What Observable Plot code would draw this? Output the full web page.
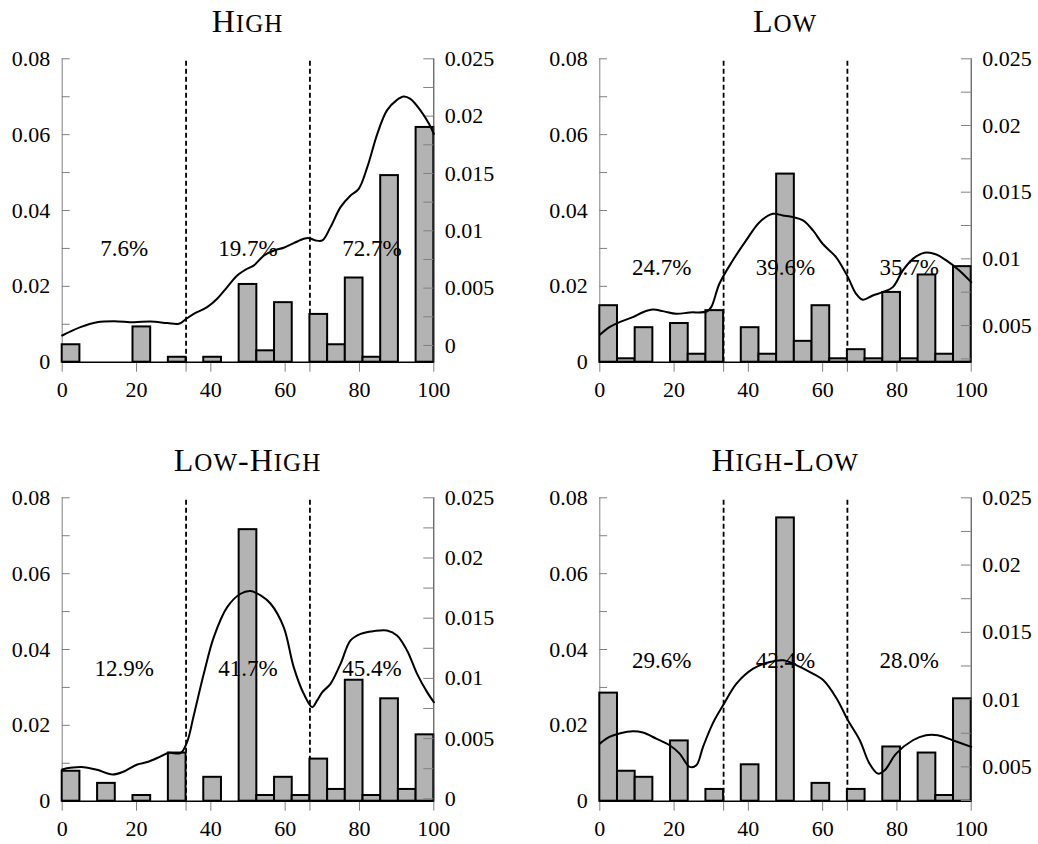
<!DOCTYPE html>
<html><head><meta charset="utf-8">
<script src="https://cdn.jsdelivr.net/npm/d3@7"></script>
<script src="https://cdn.jsdelivr.net/npm/@observablehq/plot@0.6"></script>
<style>
body{margin:0;background:#fff;}
#wrap{position:relative;width:1038px;height:844px;font-family:"Liberation Serif",serif;}
#wrap svg{position:absolute;}
.title{position:absolute;width:371.6px;text-align:center;font-family:"Liberation Serif",serif;font-size:32px;line-height:32px;letter-spacing:1px;color:#000;white-space:nowrap;}
.title .sc{font-size:25px;}
</style></head><body><div id="wrap"></div>
<script>
// ---------- data ----------
const binCount = 21;                 // histogram bins over 0..100
const cutoffs = [100 / 3, 200 / 3];  // dashed tercile lines
const panelNames = ["High", "Low", "Low-High", "High-Low"];

const highBars    = [0.0046, 0, 0, 0, 0.0093, 0, 0.0013, 0, 0.0013, 0, 0.0205, 0.0030, 0.0157, 0, 0.0126, 0.0046, 0.0222, 0.0013, 0.0492, 0, 0.0619];
const lowBars     = [0.0149, 0.0009, 0.0091, 0, 0.0102, 0.0021, 0.0136, 0, 0.0091, 0.0021, 0.0496, 0.0055, 0.0149, 0.0009, 0.0033, 0.0009, 0.0184, 0.0009, 0.0230, 0.0021, 0.0252];
const lowHighBars = [0.0079, 0, 0.0047, 0, 0.0015, 0, 0.0127, 0, 0.0063, 0, 0.0716, 0.0015, 0.0063, 0.0015, 0.0111, 0.0031, 0.0319, 0.0015, 0.0270, 0.0031, 0.0175];
const highLowBars = [0.0285, 0.0079, 0.0063, 0, 0.0159, 0, 0.0031, 0, 0.0096, 0, 0.0747, 0, 0.0047, 0, 0.0031, 0, 0.0143, 0, 0.0127, 0.0015, 0.0270];

const highCurveX = [0, 4.9, 9.4, 13.9, 19.3, 23.8, 28.3, 31.4, 33.4, 35.4, 39.0, 41.7, 44.4, 47.1, 49.8, 51.6, 54.3, 57.0, 59.6, 62.3, 65.0, 66.4, 68.2, 70.0, 72.2, 74.9, 77.6, 79.8, 82.1, 84.8, 87.4, 90.1, 91.9, 93.7, 96.4, 98.7, 100];
const highCurveY = [0.00087, 0.0016, 0.00203, 0.00212, 0.00203, 0.00209, 0.00195, 0.00189, 0.00233, 0.00276, 0.00334, 0.00407, 0.00509, 0.0061, 0.00669, 0.00698, 0.00785, 0.00828, 0.00852, 0.00892, 0.0093, 0.00936, 0.00916, 0.00916, 0.01032, 0.01206, 0.01308, 0.01366, 0.01555, 0.01846, 0.0205, 0.02142, 0.02172, 0.02151, 0.0205, 0.01933, 0.01846];

const lowCurveX = [0, 2.6, 5.3, 8.9, 11.6, 14.3, 17.0, 20.6, 24.2, 28.8, 30.0, 32.2, 35.8, 39.4, 43.0, 46.6, 49.3, 52.0, 54.7, 57.4, 60.0, 63.6, 66.8, 69.0, 70.8, 73.5, 76.2, 78.9, 81.6, 84.3, 87.4, 90.6, 93.3, 96.8, 100];
const lowCurveY = [0.0043, 0.00488, 0.00525, 0.00563, 0.006, 0.0062, 0.00608, 0.00588, 0.00598, 0.00605, 0.00638, 0.00813, 0.00988, 0.01138, 0.01275, 0.01338, 0.01325, 0.01313, 0.01288, 0.01213, 0.01113, 0.01013, 0.00863, 0.00738, 0.00693, 0.00725, 0.0075, 0.00788, 0.00913, 0.01, 0.01045, 0.01033, 0.00988, 0.00913, 0.00825];

const lowHighCurveX = [0, 2.2, 5.8, 9.4, 13.5, 16.6, 20.2, 22.9, 26.5, 28.7, 31.8, 33.6, 35.4, 38.1, 40.8, 44.4, 48.0, 50.7, 53.4, 56.1, 59.6, 62.3, 65.0, 67.3, 68.6, 70.0, 72.2, 74.9, 77.6, 80.3, 83.9, 87.4, 90.1, 92.8, 95.5, 98.2, 100];
const lowHighCurveY = [0.00244, 0.00257, 0.00263, 0.00241, 0.00202, 0.00227, 0.00285, 0.00305, 0.00352, 0.00382, 0.00379, 0.00471, 0.00692, 0.01038, 0.01343, 0.01592, 0.01703, 0.01725, 0.01689, 0.0162, 0.01426, 0.01094, 0.00872, 0.00761, 0.00817, 0.00886, 0.00955, 0.01121, 0.01315, 0.0137, 0.01393, 0.01398, 0.01357, 0.01232, 0.01038, 0.00886, 0.00803];

const highLowCurveX = [0, 2.6, 5.3, 8.9, 11.6, 15.2, 18.8, 21.5, 24.2, 26.0, 27.8, 30.4, 33.2, 36.8, 41.3, 45.8, 49.4, 53.0, 56.6, 60.2, 63.8, 66.8, 70.0, 72.6, 74.9, 76.7, 79.8, 84.3, 87.8, 91.0, 95.0, 100];
const highLowCurveY = [0.00673, 0.00723, 0.00748, 0.00765, 0.00755, 0.0071, 0.00661, 0.00599, 0.005, 0.00512, 0.00649, 0.00822, 0.00958, 0.01119, 0.0123, 0.0128, 0.01292, 0.01255, 0.01205, 0.01144, 0.01007, 0.00847, 0.00698, 0.00525, 0.0045, 0.00475, 0.00599, 0.00698, 0.00735, 0.00735, 0.00698, 0.00649];

const highShares    = ["7.6%", "19.7%", "72.7%"];
const lowShares     = ["24.7%", "39.6%", "35.7%"];
const lowHighShares = ["12.9%", "41.7%", "45.4%"];
const highLowShares = ["29.6%", "42.4%", "28.0%"];
const shareX = [100 / 6, 50, 500 / 6];
const shareY = [0.030, 0.025, 0.035, 0.037];

const rightMin = [-0.00146, 0.00225, -0.0002, 0.00245];
const rightMax = 0.025;

const xTicks = [0, 20, 40, 60, 80, 100];
const leftTicks = [0, 0.02, 0.04, 0.06, 0.08];
const leftMinor = [0, 0.01, 0.02, 0.03, 0.04, 0.05, 0.06, 0.07, 0.08];
const rightTicks = [0, 0.005, 0.01, 0.015, 0.02, 0.025];
const rightMinor = [0, 0.0025, 0.005, 0.0075, 0.01, 0.0125, 0.015, 0.0175, 0.02, 0.0225, 0.025];

// ---------- layout ----------
const W = 519, H = 400, MT = 58.3, MB = 38.3;
const margins = [[61.7, 85.7], [80.3, 67.3]];
const plotW = W - 61.7 - 85.7;
const fmt = d => String(+d.toFixed(4));
const FONT = "Liberation Serif";

const panels = [
  {bars: highBars, cx: highCurveX, cy: highCurveY, shares: highShares},
  {bars: lowBars, cx: lowCurveX, cy: lowCurveY, shares: lowShares},
  {bars: lowHighBars, cx: lowHighCurveX, cy: lowHighCurveY, shares: lowHighShares},
  {bars: highLowBars, cx: highLowCurveX, cy: highLowCurveY, shares: highLowShares}
];

const wrap = document.getElementById("wrap");

// small-caps title: first letter of each word full size, rest as smaller capitals
function smallCapsHTML(name) {
  return name.split(/(-)/).map(part => {
    if (part === "-") return "-";
    return part[0].toUpperCase() + '<span class="sc">' + part.slice(1).toUpperCase() + "</span>";
  }).join("");
}

panels.forEach((p, i) => {
  const col = i % 2, row = Math.floor(i / 2);
  const [ml, mr] = margins[col];
  const left = col * W, top = row * 439;
  const bw = 100 / binCount;
  const barData = p.bars.map((v, k) => ({x1: k * bw, x2: (k + 1) * bw, y: v})).filter(d => d.y > 0);
  const common = {
    width: W, height: H, marginLeft: ml, marginRight: mr, marginTop: MT, marginBottom: MB,
    style: {fontFamily: FONT, fontSize: "22px", background: "transparent", overflow: "visible"}
  };

  const base = Plot.plot({
    ...common,
    x: {domain: [0, 100]},
    y: {domain: [0, 0.08]},
    marks: [
      Plot.ruleX([0], {y1: 0, y2: 0.08, stroke: "#808080", strokeWidth: 1}),
      Plot.tickY(leftMinor, {y: d => d, insetRight: plotW - 8, stroke: "#808080", strokeWidth: 1}),
      Plot.axisY({ticks: leftTicks, tickSize: 0, tickPadding: 12, tickFormat: fmt, fontSize: 22, label: null}),
      Plot.axisX({ticks: xTicks, tickSize: 10, tickPadding: 9, stroke: "#808080", fill: "#000", tickFormat: d => String(d), fontSize: 22, label: null}),
      Plot.axisX({ticks: cutoffs, tickSize: 10, text: null, stroke: "#808080", label: null}),
      Plot.ruleX(cutoffs, {y1: 0, y2: 0.08, stroke: "#000", strokeWidth: 1.8, strokeDasharray: "5,3"}),
      Plot.rectY(barData, {x1: "x1", x2: "x2", y: "y", fill: "#b3b3b3", stroke: "#000", strokeWidth: 2}),
      Plot.ruleY([0], {stroke: "#000", strokeWidth: 1.4}),
      Plot.text(p.shares, {x: shareX, y: shareX.map(() => shareY[i]), text: d => d, fontSize: 23, fill: "#000"})
    ]
  });

  const rTicks = rightTicks.filter(t => t >= rightMin[i] - 1e-9);
  const rMinor = rightMinor.filter(t => t >= rightMin[i] - 1e-9);
  const overlay = Plot.plot({
    ...common,
    x: {domain: [0, 100], axis: null},
    y: {domain: [rightMin[i], rightMax], axis: null},
    marks: [
      Plot.ruleX([100], {stroke: "#333", strokeWidth: 1}),
      Plot.tickY(rMinor, {y: d => d, insetLeft: plotW - 10, stroke: "#808080", strokeWidth: 1}),
      Plot.axisY({anchor: "right", ticks: rTicks, tickSize: 0, tickPadding: 11, tickFormat: fmt, fontSize: 22, label: null}),
      Plot.line(p.cx.map((x, k) => ({x, y: p.cy[k]})), {x: "x", y: "y", curve: "catmull-rom", stroke: "#000", strokeWidth: 2})
    ]
  });

  [base, overlay].forEach(s => {
    s.style.left = left + "px";
    s.style.top = top + "px";
    wrap.appendChild(s);
  });

  const t = document.createElement("div");
  t.className = "title";
  t.innerHTML = smallCapsHTML(panelNames[i]);
  t.style.left = (left + ml) + "px";
  t.style.top = (top + 5) + "px";
  wrap.appendChild(t);
});
</script>
</body></html>
